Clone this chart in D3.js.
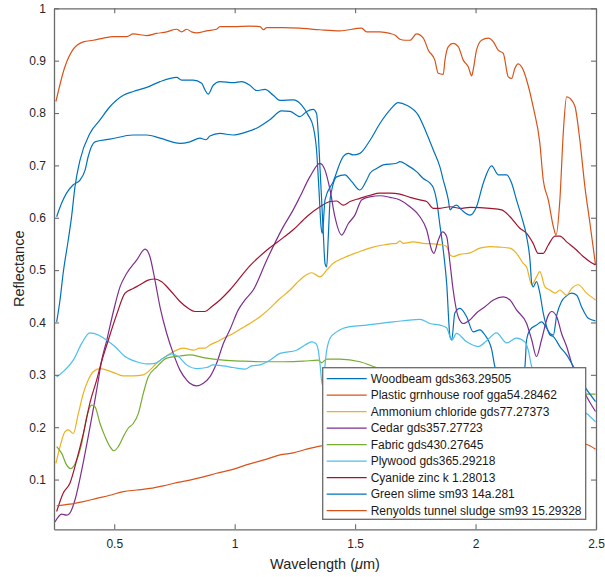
<!DOCTYPE html>
<html><head><meta charset="utf-8">
<script src="https://cdn.jsdelivr.net/npm/d3@7"></script>
<style>
html,body{margin:0;padding:0;background:#fff;}
svg{display:block;font-family:"Liberation Sans",Arial,Helvetica,sans-serif;}
</style></head><body>
<svg id="chart" width="605" height="577"></svg>
<script>
// ---- data: [wavelength (µm), reflectance] ----
const woodbeam = [[0.261,0.602],[0.282,0.628],[0.302,0.647],[0.330,0.663],[0.358,0.672],[0.379,0.691],[0.392,0.717],[0.420,0.745],[0.482,0.750],[0.579,0.758],[0.635,0.758],[0.690,0.752],[0.773,0.742],[0.814,0.745],[0.856,0.752],[0.881,0.749],[0.897,0.756],[0.939,0.761],[0.994,0.758],[1.050,0.764],[1.091,0.771],[1.146,0.787],[1.195,0.804],[1.230,0.803],[1.271,0.793],[1.299,0.803],[1.326,0.807],[1.340,0.799],[1.347,0.761],[1.354,0.697],[1.361,0.634],[1.368,0.570],[1.375,0.513],[1.382,0.506],[1.388,0.557],[1.396,0.634],[1.403,0.653],[1.423,0.678],[1.458,0.682],[1.486,0.669],[1.520,0.653],[1.548,0.672],[1.562,0.685],[1.589,0.694],[1.617,0.701],[1.672,0.704],[1.686,0.707],[1.714,0.701],[1.755,0.688],[1.783,0.675],[1.811,0.666],[1.825,0.657],[1.838,0.634],[1.852,0.586],[1.866,0.538],[1.880,0.475],[1.894,0.373],[1.901,0.367],[1.914,0.418],[1.935,0.427],[1.963,0.411],[1.990,0.382],[2.018,0.386],[2.039,0.376],[2.067,0.348],[2.080,0.316],[2.120,0.280],[2.180,0.270],[2.205,0.316],[2.212,0.367],[2.226,0.386],[2.253,0.395],[2.274,0.401],[2.295,0.389],[2.309,0.379],[2.323,0.376],[2.337,0.414],[2.357,0.440],[2.378,0.451],[2.399,0.456],[2.420,0.452],[2.440,0.430],[2.468,0.408],[2.498,0.403]];

const plasticRoof = [[0.258,0.822],[0.295,0.888],[0.330,0.922],[0.372,0.936],[0.413,0.939],[0.455,0.943],[0.496,0.946],[0.552,0.946],[0.579,0.951],[0.635,0.948],[0.676,0.952],[0.718,0.955],[0.759,0.960],[0.780,0.955],[0.801,0.960],[0.821,0.955],[0.842,0.953],[0.884,0.957],[0.925,0.960],[0.939,0.965],[0.994,0.965],[1.063,0.966],[1.105,0.965],[1.119,0.959],[1.133,0.963],[1.202,0.963],[1.271,0.962],[1.354,0.959],[1.437,0.957],[1.527,0.962],[1.548,0.955],[1.603,0.955],[1.645,0.952],[1.665,0.949],[1.686,0.941],[1.707,0.939],[1.728,0.939],[1.755,0.951],[1.783,0.943],[1.804,0.920],[1.831,0.901],[1.845,0.876],[1.866,0.874],[1.873,0.901],[1.887,0.927],[1.907,0.933],[1.928,0.927],[1.949,0.901],[1.970,0.888],[1.984,0.871],[1.990,0.882],[2.004,0.920],[2.025,0.939],[2.053,0.943],[2.074,0.936],[2.094,0.920],[2.115,0.914],[2.136,0.869],[2.150,0.866],[2.163,0.885],[2.177,0.894],[2.198,0.882],[2.212,0.863],[2.239,0.812],[2.267,0.742],[2.281,0.672],[2.302,0.634],[2.323,0.583],[2.334,0.567],[2.350,0.634],[2.364,0.761],[2.378,0.831],[2.392,0.828],[2.413,0.812],[2.433,0.748],[2.454,0.659],[2.475,0.589],[2.498,0.510]];

const ammoniumChloride = [[0.258,0.131],[0.275,0.163],[0.295,0.191],[0.309,0.195],[0.330,0.188],[0.351,0.226],[0.372,0.265],[0.392,0.290],[0.413,0.306],[0.441,0.312],[0.469,0.309],[0.510,0.302],[0.538,0.298],[0.579,0.298],[0.621,0.300],[0.648,0.309],[0.676,0.322],[0.704,0.332],[0.745,0.344],[0.787,0.351],[0.828,0.347],[0.856,0.351],[0.877,0.351],[0.897,0.357],[0.925,0.363],[0.953,0.370],[0.994,0.379],[1.022,0.387],[1.063,0.398],[1.105,0.411],[1.146,0.427],[1.181,0.443],[1.230,0.462],[1.257,0.475],[1.285,0.487],[1.320,0.495],[1.354,0.487],[1.382,0.500],[1.409,0.513],[1.451,0.523],[1.492,0.531],[1.534,0.538],[1.575,0.544],[1.617,0.548],[1.645,0.550],[1.672,0.551],[1.686,0.556],[1.700,0.551],[1.741,0.554],[1.783,0.551],[1.825,0.550],[1.866,0.548],[1.880,0.545],[1.894,0.529],[1.907,0.526],[1.935,0.530],[1.977,0.533],[2.018,0.542],[2.060,0.545],[2.101,0.544],[2.143,0.542],[2.170,0.532],[2.198,0.513],[2.212,0.506],[2.233,0.472],[2.253,0.487],[2.267,0.497],[2.288,0.468],[2.309,0.462],[2.330,0.456],[2.350,0.462],[2.378,0.452],[2.399,0.465],[2.426,0.472],[2.461,0.456],[2.498,0.443]];

const cedar = [[0.254,0.019],[0.282,0.034],[0.302,0.032],[0.316,0.036],[0.337,0.061],[0.365,0.118],[0.392,0.182],[0.420,0.252],[0.434,0.290],[0.448,0.328],[0.469,0.366],[0.496,0.420],[0.524,0.468],[0.552,0.494],[0.593,0.519],[0.628,0.540],[0.648,0.526],[0.669,0.481],[0.690,0.430],[0.718,0.379],[0.745,0.341],[0.773,0.309],[0.801,0.290],[0.814,0.284],[0.842,0.279],[0.870,0.284],[0.897,0.296],[0.925,0.322],[0.953,0.360],[0.980,0.386],[1.015,0.424],[1.043,0.443],[1.077,0.462],[1.133,0.519],[1.202,0.583],[1.243,0.615],[1.271,0.640],[1.312,0.678],[1.354,0.704],[1.375,0.691],[1.396,0.653],[1.416,0.602],[1.444,0.567],[1.472,0.589],[1.499,0.605],[1.527,0.634],[1.562,0.640],[1.603,0.642],[1.645,0.639],[1.686,0.634],[1.728,0.621],[1.769,0.602],[1.797,0.577],[1.818,0.538],[1.827,0.532],[1.845,0.557],[1.863,0.573],[1.880,0.564],[1.894,0.513],[1.907,0.462],[1.928,0.411],[1.949,0.398],[1.977,0.405],[2.004,0.418],[2.039,0.430],[2.074,0.443],[2.115,0.449],[2.143,0.443],[2.170,0.424],[2.212,0.398],[2.233,0.367],[2.253,0.335],[2.274,0.367],[2.302,0.414],[2.316,0.421],[2.337,0.411],[2.357,0.379],[2.378,0.354],[2.399,0.322],[2.458,0.261],[2.498,0.230]];

const fabric = [[0.261,0.163],[0.282,0.150],[0.302,0.128],[0.319,0.121],[0.344,0.137],[0.365,0.169],[0.386,0.220],[0.406,0.242],[0.420,0.239],[0.441,0.207],[0.462,0.182],[0.482,0.163],[0.499,0.155],[0.517,0.163],[0.538,0.182],[0.558,0.198],[0.579,0.207],[0.600,0.226],[0.621,0.265],[0.641,0.296],[0.676,0.315],[0.718,0.332],[0.773,0.336],[0.814,0.338],[0.870,0.333],[0.953,0.328],[1.036,0.326],[1.119,0.325],[1.202,0.325],[1.285,0.326],[1.347,0.328],[1.361,0.323],[1.382,0.330],[1.437,0.330],[1.520,0.325],[1.589,0.314],[1.700,0.305],[1.900,0.290],[2.100,0.283],[2.300,0.272],[2.468,0.263],[2.498,0.263]];

const plywood = [[0.261,0.296],[0.295,0.309],[0.330,0.328],[0.365,0.360],[0.399,0.380],[0.434,0.376],[0.469,0.366],[0.503,0.354],[0.545,0.335],[0.593,0.325],[0.635,0.321],[0.669,0.322],[0.704,0.332],[0.738,0.340],[0.766,0.335],[0.801,0.319],[0.842,0.312],[0.884,0.314],[0.911,0.319],[0.953,0.317],[0.994,0.314],[1.043,0.311],[1.070,0.317],[1.105,0.319],[1.146,0.328],[1.188,0.341],[1.257,0.347],[1.292,0.357],[1.320,0.363],[1.337,0.360],[1.347,0.347],[1.354,0.322],[1.364,0.280],[1.382,0.347],[1.396,0.370],[1.423,0.382],[1.451,0.389],[1.479,0.392],[1.548,0.395],[1.658,0.401],[1.769,0.406],[1.811,0.398],[1.852,0.395],[1.880,0.390],[1.901,0.366],[1.921,0.379],[1.963,0.363],[2.011,0.354],[2.046,0.365],[2.087,0.380],[2.129,0.361],[2.170,0.370],[2.205,0.363],[2.219,0.347],[2.233,0.316],[2.300,0.270],[2.400,0.238],[2.461,0.226],[2.498,0.210]];

const cyanideZinc = [[0.261,0.039],[0.288,0.074],[0.316,0.093],[0.344,0.137],[0.372,0.188],[0.399,0.246],[0.427,0.290],[0.448,0.326],[0.469,0.357],[0.510,0.415],[0.545,0.456],[0.579,0.465],[0.607,0.472],[0.641,0.481],[0.669,0.483],[0.697,0.478],[0.731,0.462],[0.773,0.440],[0.807,0.427],[0.835,0.421],[0.877,0.421],[0.904,0.430],[0.939,0.443],[0.980,0.462],[1.063,0.508],[1.133,0.538],[1.202,0.562],[1.243,0.577],[1.299,0.602],[1.354,0.621],[1.396,0.631],[1.423,0.632],[1.451,0.624],[1.479,0.631],[1.520,0.637],[1.562,0.643],[1.603,0.647],[1.645,0.647],[1.686,0.645],[1.728,0.639],[1.769,0.634],[1.797,0.631],[1.825,0.618],[1.852,0.618],[1.894,0.621],[1.935,0.618],[1.977,0.620],[2.060,0.618],[2.108,0.615],[2.143,0.602],[2.184,0.580],[2.212,0.570],[2.239,0.551],[2.260,0.532],[2.281,0.532],[2.302,0.548],[2.330,0.565],[2.350,0.565],[2.378,0.554],[2.420,0.538],[2.447,0.526],[2.475,0.516],[2.498,0.510]];

const greenSlime = [[0.261,0.401],[0.275,0.443],[0.288,0.494],[0.309,0.557],[0.323,0.602],[0.337,0.659],[0.358,0.710],[0.399,0.761],[0.441,0.787],[0.482,0.812],[0.538,0.834],[0.579,0.841],[0.635,0.849],[0.690,0.860],[0.759,0.868],[0.780,0.863],[0.828,0.863],[0.863,0.857],[0.877,0.844],[0.890,0.836],[0.911,0.853],[0.939,0.860],[0.994,0.858],[1.029,0.860],[1.063,0.853],[1.091,0.843],[1.126,0.845],[1.160,0.834],[1.188,0.824],[1.243,0.825],[1.278,0.815],[1.305,0.796],[1.326,0.774],[1.340,0.729],[1.350,0.653],[1.358,0.586],[1.364,0.570],[1.375,0.634],[1.409,0.669],[1.451,0.717],[1.472,0.723],[1.492,0.720],[1.520,0.723],[1.562,0.748],[1.603,0.780],[1.645,0.806],[1.679,0.820],[1.714,0.815],[1.762,0.796],[1.797,0.761],[1.825,0.729],[1.852,0.697],[1.866,0.672],[1.887,0.634],[1.894,0.615],[1.907,0.621],[1.921,0.624],[1.942,0.615],[1.977,0.605],[2.004,0.621],[2.032,0.666],[2.067,0.699],[2.094,0.682],[2.129,0.682],[2.150,0.666],[2.170,0.634],[2.191,0.602],[2.212,0.564],[2.226,0.519],[2.233,0.475],[2.239,0.468],[2.253,0.478],[2.267,0.456],[2.281,0.418],[2.295,0.392],[2.309,0.376],[2.323,0.373],[2.350,0.354],[2.378,0.338],[2.406,0.316],[2.458,0.274],[2.498,0.249]];

const tunnelSludge = [[0.261,0.050],[0.316,0.053],[0.372,0.058],[0.427,0.064],[0.482,0.070],[0.538,0.077],[0.593,0.080],[0.648,0.083],[0.704,0.088],[0.759,0.094],[0.814,0.099],[0.870,0.105],[0.925,0.112],[0.980,0.118],[1.063,0.130],[1.133,0.139],[1.188,0.147],[1.243,0.151],[1.299,0.158],[1.354,0.164],[1.500,0.172],[1.800,0.178],[2.100,0.178],[2.300,0.173],[2.461,0.167],[2.498,0.158]];

const seriesNames = ["Woodbeam gds363.29505","Plastic grnhouse roof gga54.28462","Ammonium chloride gds77.27373","Cedar gds357.27723","Fabric gds430.27645","Plywood gds365.29218","Cyanide zinc k 1.28013","Green slime sm93 14a.281","Renyolds tunnel sludge sm93 15.29328"];
const seriesData = [woodbeam, plasticRoof, ammoniumChloride, cedar, fabric, plywood, cyanideZinc, greenSlime, tunnelSludge];
const seriesColors = ["#0072BD","#D95319","#EDB120","#7E2F8E","#77AC30","#4DBEEE","#A2142F","#0072BD","#D95319"];

const xTickValues = [0.5, 1, 1.5, 2, 2.5];
const xTickLabels = ["0.5", "1", "1.5", "2", "2.5"];
const yTickValues = [0.1, 0.2, 0.3, 0.4, 0.5, 0.6, 0.7, 0.8, 0.9, 1];
const yTickLabels = ["0.1", "0.2", "0.3", "0.4", "0.5", "0.6", "0.7", "0.8", "0.9", "1"];
const xDomain = [0.25, 2.5];
const yDomain = [0.005, 1];

// ---- layout ----
const svg = d3.select("#chart");
const L = 54, R = 596, T = 8.3, B = 529.3;
const axisColor = "#6a6a6a", textColor = "#262626";
const x = d3.scaleLinear().domain(xDomain).range([L, R]);
const y = d3.scaleLinear().domain(yDomain).range([B, T]);

svg.append("rect").attr("width", 605).attr("height", 577).attr("fill", "#fff");
svg.append("defs").append("clipPath").attr("id", "clip")
  .append("rect").attr("x", L).attr("y", T).attr("width", R - L).attr("height", B - T);

const line = d3.line().x(d => x(d[0])).y(d => y(d[1])).curve(d3.curveMonotoneX);
const plot = svg.append("g").attr("clip-path", "url(#clip)");
seriesData.forEach((s, i) => {
  plot.append("path").datum(s).attr("d", line)
    .attr("fill", "none").attr("stroke", seriesColors[i])
    .attr("stroke-width", 1.2).attr("stroke-linejoin", "round");
});

function styleAxis(g) {
  g.select(".domain").attr("stroke", axisColor).attr("stroke-width", 1.3);
  g.selectAll(".tick line").attr("stroke", axisColor).attr("stroke-width", 1.1);
  g.selectAll(".tick text").attr("fill", textColor).attr("font-size", "12px")
    .attr("font-family", '"Liberation Sans",Arial,Helvetica,sans-serif');
}
const xi = xTickValues.indexOf.bind(xTickValues);
const yi = yTickValues.indexOf.bind(yTickValues);
svg.append("g").attr("transform", `translate(0,${B})`)
  .call(d3.axisBottom(x).tickValues(xTickValues).tickFormat(d => xTickLabels[xi(d)]).tickSizeInner(-5).tickSizeOuter(0).tickPadding(10))
  .call(styleAxis);
svg.append("g").attr("transform", `translate(0,${T})`)
  .call(d3.axisTop(x).tickValues(xTickValues).tickFormat("").tickSizeInner(-5).tickSizeOuter(0))
  .call(styleAxis);
svg.append("g").attr("transform", `translate(${L},0)`)
  .call(d3.axisLeft(y).tickValues(yTickValues).tickFormat(d => yTickLabels[yi(d)]).tickSizeInner(-5).tickSizeOuter(0).tickPadding(8))
  .call(styleAxis);
svg.append("g").attr("transform", `translate(${R},0)`)
  .call(d3.axisRight(y).tickValues(yTickValues).tickFormat("").tickSizeInner(-5).tickSizeOuter(0))
  .call(styleAxis);

// axis labels
const xl = svg.append("text").attr("x", (L + R) / 2).attr("y", 568.5)
  .attr("text-anchor", "middle").attr("font-size", "14.5px").attr("fill", textColor);
xl.append("tspan").text("Wavelength (");
xl.append("tspan").attr("font-style", "italic").text("\u03BC");
xl.append("tspan").text("m)");
svg.append("text").attr("transform", `translate(23.5,${(T + B) / 2}) rotate(-90)`)
  .attr("text-anchor", "middle").attr("font-size", "14.5px").attr("fill", textColor).text("Reflectance");

// legend
const lg = svg.append("g").attr("transform", "translate(322.7,367.7)");
lg.append("rect").attr("width", 263).attr("height", 151.6).attr("fill", "#fff")
  .attr("stroke", axisColor).attr("stroke-width", 1.3);
seriesNames.forEach((name, i) => {
  const yy = 11 + i * 16.5;
  lg.append("line").attr("x1", 4).attr("x2", 44).attr("y1", yy).attr("y2", yy)
    .attr("stroke", seriesColors[i]).attr("stroke-width", 1.2);
  lg.append("text").attr("x", 48).attr("y", yy).attr("dy", "0.35em")
    .attr("font-size", "12px").attr("fill", "#1a1a1a").text(name);
});
</script>
</body></html>
